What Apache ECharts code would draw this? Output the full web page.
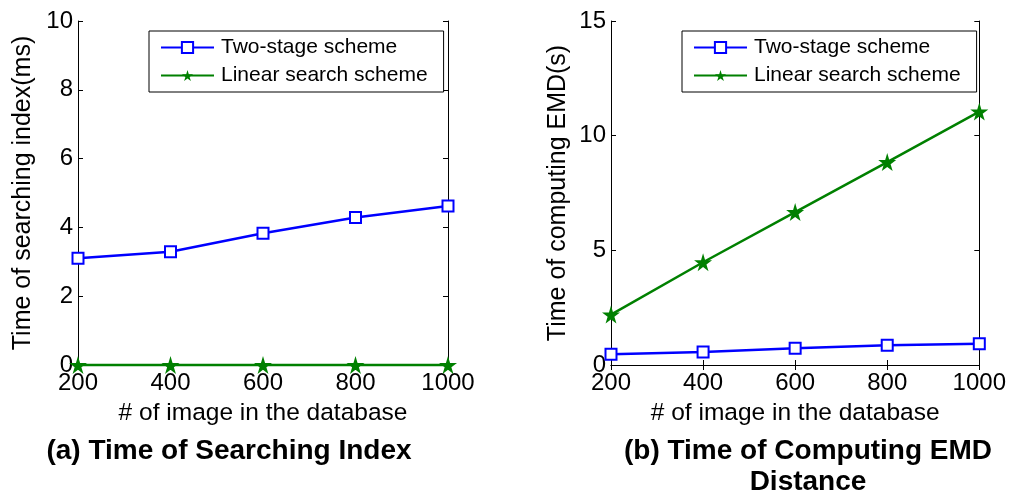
<!DOCTYPE html>
<html>
<head>
<meta charset="utf-8">
<script src="https://cdn.jsdelivr.net/npm/echarts@6/dist/echarts.min.js"></script>
<style>
  html, body { margin: 0; padding: 0; background: #fff; }
  #chart { width: 1009px; height: 490px; }
</style>
</head>
<body>
<div id="chart"></div>
<script>
const chart = echarts.init(document.getElementById('chart'))
const font = 'Arial, "Liberation Sans", sans-serif'

// x 轴：数据库图像数量
const imageCounts = [200, 400, 600, 800, 1000]

// (a) 搜索索引时间 (ms)
const searchTwoStage = [3.1, 3.29, 3.83, 4.29, 4.62]
const searchLinear = [0, 0, 0, 0, 0]

// (b) 计算 EMD 时间 (s)
const emdTwoStage = [0.47, 0.57, 0.73, 0.86, 0.93]
const emdLinear = [2.2, 4.48, 6.67, 8.85, 11.05]

const seriesNames = ['Two-stage scheme', 'Linear search scheme']
const captions = ['(a) Time of Searching Index', '(b) Time of Computing EMD\nDistance']

const blue = '#0000ff'
const green = '#008000'
const star = 'path://M50,0 L61,35 L98,35 L68,57 L79,91 L50,70 L21,91 L32,57 L2,35 L39,35 Z'

const pairs = (ys) => imageCounts.map((x, i) => [x, ys[i]])

const grids = [
  { left: 78, top: 21, width: 370, height: 344 },
  { left: 611, top: 21, width: 371, height: 344 },
]

function bottomX(gi) {
  return {
    type: 'value', gridIndex: gi, min: 200, max: 1000, interval: 200,
    name: '# of image in the database', nameLocation: 'middle', nameGap: 36,
    nameTextStyle: { fontSize: 24.5, color: '#000', fontFamily: font },
    axisLine: { show: true, lineStyle: { color: '#000', width: 1 } },
    axisTick: { show: true, inside: true, length: 5, lineStyle: { color: '#000' } },
    axisLabel: { fontSize: 24, color: '#000', fontFamily: font, margin: 6, formatter: (v) => String(v) },
    splitLine: { show: false },
  }
}
function topX(gi) {
  return {
    type: 'value', gridIndex: gi, position: 'top', min: 200, max: 1000, interval: 200,
    axisLine: { show: true, lineStyle: { color: '#000', width: 1 } },
    axisTick: { show: true, inside: true, length: 5, lineStyle: { color: '#000' } },
    axisLabel: { show: false }, splitLine: { show: false },
  }
}
function leftY(gi, max, interval, name, gap) {
  return {
    type: 'value', gridIndex: gi, min: 0, max: max, interval: interval,
    name: name, nameLocation: 'middle', nameGap: gap, nameRotate: 90,
    nameTextStyle: { fontSize: 25, color: '#000', fontFamily: font },
    axisLine: { show: true, lineStyle: { color: '#000', width: 1 } },
    axisTick: { show: true, inside: true, length: 5, lineStyle: { color: '#000' } },
    axisLabel: { fontSize: 24, color: '#000', fontFamily: font, margin: 5 },
    splitLine: { show: false },
  }
}
function rightY(gi, max, interval) {
  return {
    type: 'value', gridIndex: gi, position: 'right', min: 0, max: max, interval: interval,
    axisLine: { show: true, lineStyle: { color: '#000', width: 1 } },
    axisTick: { show: true, inside: true, length: 5, lineStyle: { color: '#000' } },
    axisLabel: { show: false }, splitLine: { show: false },
  }
}

function lineSeries(name, data, xi, yi) {
  const isTwo = name === seriesNames[0]
  return {
    name: name, type: 'line', xAxisIndex: xi, yAxisIndex: yi, data: data,
    clip: false, animation: false,
    symbol: isTwo ? 'rect' : star,
    symbolSize: isTwo ? 11 : 18,
    showAllSymbol: true,
    lineStyle: { color: isTwo ? blue : green, width: 2.5 },
    itemStyle: isTwo
      ? { color: '#fff', borderColor: blue, borderWidth: 2 }
      : { color: green, borderColor: green, borderWidth: 0 },
  }
}

function legendAt(left) {
  return {
    left: left, top: 31, orient: 'vertical',
    data: seriesNames, itemWidth: 53, itemHeight: 14, itemGap: 7,
    padding: [6, 16, 6, 11],
    borderColor: '#000', borderWidth: 1, backgroundColor: '#fff',
    textStyle: { fontSize: 21, color: '#000', fontFamily: font, padding: [0, 0, 0, 2] },
    selectedMode: false,
  }
}

const option = {
  backgroundColor: '#fff',
  animation: false,
  title: [
    { text: captions[0], left: 224, top: 431, textAlign: 'center',
      textStyle: { fontSize: 28, fontWeight: 'bold', color: '#000', fontFamily: font, lineHeight: 31 } },
    { text: captions[1], left: 803, top: 431, textAlign: 'center',
      textStyle: { fontSize: 28, fontWeight: 'bold', color: '#000', fontFamily: font, lineHeight: 31 } },
  ],
  legend: [legendAt(149), legendAt(682)],
  grid: grids,
  xAxis: [bottomX(0), topX(0), bottomX(1), topX(1)],
  yAxis: [
    leftY(0, 10, 2, 'Time of searching index(ms)', 42), rightY(0, 10, 2),
    leftY(1, 15, 5, 'Time of computing EMD(s)', 40), rightY(1, 15, 5),
  ],
  series: [
    lineSeries(seriesNames[0], pairs(searchTwoStage), 0, 0),
    lineSeries(seriesNames[1], pairs(searchLinear), 0, 0),
    lineSeries(seriesNames[0], pairs(emdTwoStage), 2, 2),
    lineSeries(seriesNames[1], pairs(emdLinear), 2, 2),
  ],
}

chart.setOption(option)
</script>
</body>
</html>
